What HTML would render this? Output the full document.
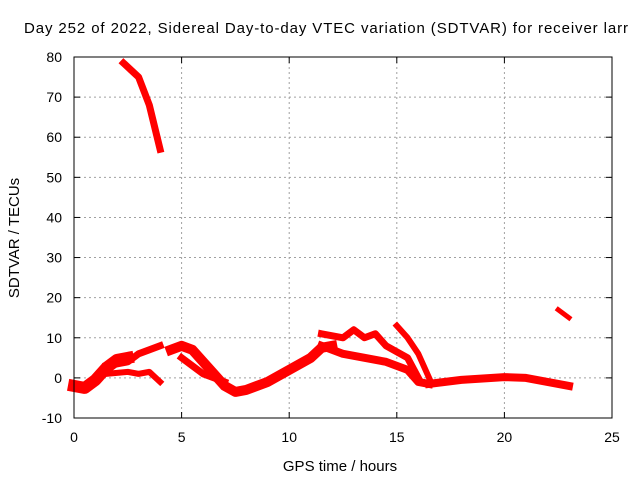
<!DOCTYPE html>
<html><head><meta charset="utf-8"><style>
body{margin:0;background:#fff}
svg{display:block;font-family:"Liberation Sans",sans-serif}
</style></head><body>
<svg id="c" width="640" height="480" xmlns="http://www.w3.org/2000/svg">
<text x="24" y="33" font-size="15" textLength="604" lengthAdjust="spacing">Day 252 of 2022, Sidereal Day-to-day VTEC variation (SDTVAR) for receiver larr</text>
<g id="grid"></g><g id="marks"></g><g id="axes"></g>
<text x="340" y="471" font-size="15" text-anchor="middle">GPS time / hours</text>
<text transform="translate(19,238) rotate(-90)" font-size="15" text-anchor="middle">SDTVAR / TECUs</text>
</svg>
<script>
const xTicks=[0,5,10,15,20,25];
const yTicks=[-10,0,10,20,30,40,50,60,70,80];
const track1X=[0,0.5,1,1.5,2,2.5];const track1Y=[-2,-2.5,-0.5,2.5,4.5,5];
const track2X=[1.5,2.5,3,3.5,4];const track2Y=[3,4,6,7,8];
const track3X=[1.5,2.5,3,3.5,4];const track3Y=[1,1.5,1,1.5,-1];
const track4X=[4.5,5,5.5,6,6.5,7,7.5,8,9,10,11,11.5,12];const track4Y=[7,8,7,4,1,-2,-3.5,-3,-1,2,5,7.5,8];
const track5X=[5,5.5,6,6.5,7];const track5Y=[5,3,1,0,-1];
const track6X=[11.5,12.5,13.5,14.5,15.5,16,16.5];const track6Y=[8,6,5,4,2,-1,-1.5];
const track7X=[11.5,12.5,13,13.5,14,14.5,15.5,16];const track7Y=[11,10,12,10,11,8,5,0];
const track8X=[15,15.5,16,16.5];const track8Y=[13,10,6,0];
const track9X=[16.5,18,20,21,22,23];const track9Y=[-1.5,-0.5,0.2,0,-1,-2];
const track10X=[2.3,3,3.5,4];const track10Y=[78.5,75,68,57];
const track11X=[22.5,23];const track11Y=[17,15];
const tracksX=[track1X,track2X,track3X,track4X,track5X,track6X,track7X,track8X,track9X,track10X,track11X];
const tracksY=[track1Y,track2Y,track3Y,track4Y,track5Y,track6Y,track7Y,track8Y,track9Y,track10Y,track11Y];
const widths=[12,7,6,10,7,8,7,6,8,7,5];
const L=74,R=612,T=57,B=418;
const sx=h=>L+(h-0)/25*(R-L);
const sy=v=>B-(v+10)/90*(B-T);
const NS="http://www.w3.org/2000/svg";
function mk(p,t,a){const e=document.createElementNS(NS,t);for(const k in a)e.setAttribute(k,a[k]);p.appendChild(e);return e;}
const grid=document.getElementById('grid'),axes=document.getElementById('axes'),marks=document.getElementById('marks');
xTicks.forEach(t=>{const x=sx(t);
 if(t>0&&t<25){const g=mk(grid,'line',{x1:x,x2:x,y1:T,y2:B,stroke:'#a0a0a0','stroke-dasharray':'2,3'});
 
 }
 const l=mk(axes,'line',{x1:x,x2:x,y1:B,y2:B-6,stroke:'#000'});
 
 
 mk(axes,'line',{x1:x,x2:x,y1:T,y2:T+6,stroke:'#000'});
 const tx=mk(axes,'text',{x:x,y:B+24,'font-size':14,'text-anchor':'middle'});tx.textContent=t;
 
 });
yTicks.forEach(t=>{const y=sy(t);
 if(t>-10&&t<80){const g=mk(grid,'line',{x1:L,x2:R,y1:y,y2:y,stroke:'#a0a0a0','stroke-dasharray':'2,3'});
 
 }
 const l=mk(axes,'line',{x1:L,x2:L+6,y1:y,y2:y,stroke:'#000'});
 
 
 mk(axes,'line',{x1:R,x2:R-6,y1:y,y2:y,stroke:'#000'});
 const tx=mk(axes,'text',{x:L-12,y:y+5,'font-size':14,'text-anchor':'end'});tx.textContent=t;
 
 });
const fr=mk(axes,'rect',{x:L,y:T,width:R-L,height:B-T,fill:'none',stroke:'#000'});


tracksX.forEach((xs,i)=>{const ys=tracksY[i];
 const pts=xs.map((h,j)=>sx(h)+','+sy(ys[j])).join(' ');
 const p=mk(marks,'polyline',{points:pts,fill:'none',stroke:'#ff0000','stroke-width':widths[i],'stroke-linejoin':'round','stroke-linecap':'square'});
 
 });
</script>
</body></html>
